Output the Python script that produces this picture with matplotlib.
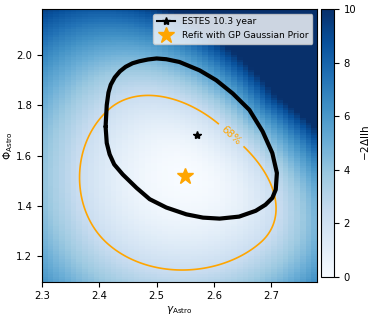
import numpy as np
import matplotlib
matplotlib.use('Agg')
import matplotlib.pyplot as plt

# best fits
estes_best = (2.57, 1.68)
refit_best = (2.55, 1.52)

# ESTES 10.3 year 68% contour (gamma, phi)
estes_gamma = [2.411, 2.413, 2.418, 2.426, 2.441, 2.465, 2.488, 2.517, 2.552, 2.581,
               2.610, 2.644, 2.673, 2.690, 2.702, 2.708, 2.710, 2.702, 2.685, 2.662,
               2.633, 2.604, 2.575, 2.540, 2.517, 2.500, 2.485, 2.470, 2.458, 2.446,
               2.436, 2.427, 2.420, 2.416, 2.413]
estes_phi = [1.715, 1.650, 1.605, 1.565, 1.525, 1.472, 1.427, 1.394, 1.367, 1.354,
             1.350, 1.358, 1.381, 1.405, 1.432, 1.465, 1.531, 1.610, 1.696, 1.781,
             1.846, 1.899, 1.938, 1.971, 1.982, 1.985, 1.981, 1.974, 1.966, 1.952,
             1.934, 1.910, 1.881, 1.850, 1.800]

# refit likelihood scan: widths along the diagonal (p) / anti-diagonal (m)
scale_gamma, scale_phi = 0.1, 0.2
sig_p_up, sig_p_down = 0.786, 1.173
sig_m_up, sig_m_down = 1.116, 1.23
steep_p_up = 0.10     # extra growth towards high gamma / high phi
soft_p_down = 0.08    # slower growth towards low gamma / low phi
soft_m_up = 0.12
bend_pos, bend_neg = 0.08, 0.05
level_68 = 2.3

gamma_edges = np.arange(2.30, 2.785, 0.01)
phi_edges = np.arange(1.10, 2.185, 0.01)


def llh(g, f):
    u = (g - refit_best[0]) / scale_gamma
    w = (f - refit_best[1]) / scale_phi
    p = (u + w) / np.sqrt(2)
    m = (w - u) / np.sqrt(2)
    sp_up = sig_p_up * (1 + np.where(m > 0, bend_pos * m, -bend_neg * m))
    tp = np.where(p > 0, (p / sp_up) ** 2 * (1 + steep_p_up * p),
                  (p / sig_p_down) ** 2 / (1 + soft_p_down * np.abs(p)))
    tm = np.where(m > 0, (m / sig_m_up) ** 2 / (1 + soft_m_up * m),
                  (m / sig_m_down) ** 2)
    return tp + tm


gc = 0.5 * (gamma_edges[1:] + gamma_edges[:-1])
pc = 0.5 * (phi_edges[1:] + phi_edges[:-1])
G, P = np.meshgrid(gc, pc)
Z = llh(G, P)

fig = plt.figure(figsize=(3.74, 3.18), dpi=100)
ax = fig.add_axes([0.1123, 0.1142, 0.7353, 0.8566])
cax = fig.add_axes([0.8575, 0.129, 0.0356, 0.8418])

mesh = ax.pcolormesh(gamma_edges, phi_edges, Z, cmap='Blues', vmin=0, vmax=10, shading='flat')

# finer grid for a smooth contour
gf = np.linspace(2.30, 2.78, 400)
pf = np.linspace(1.10, 2.18, 400)
GF, PF = np.meshgrid(gf, pf)
cs = ax.contour(GF, PF, llh(GF, PF), levels=[level_68], colors='orange', linewidths=1.2)
ax.clabel(cs, fmt={level_68: '68%'}, manual=[(2.63, 1.68)], fontsize=7.5, inline=True)

ax.plot(estes_gamma + estes_gamma[:1], estes_phi + estes_phi[:1], color='black', lw=3,
        solid_joinstyle='round', solid_capstyle='round')
ax.plot([estes_best[0]], [estes_best[1]], marker='*', color='black', ls='-', ms=6,
        label='ESTES 10.3 year')
ax.plot([refit_best[0]], [refit_best[1]], marker='*', color='orange', ls='none', ms=12,
        label='Refit with GP Gaussian Prior')

ax.set_xlim(2.30, 2.78)
ax.set_ylim(1.10, 2.18)
ax.set_xticks([2.3, 2.4, 2.5, 2.6, 2.7])
ax.set_yticks([1.2, 1.4, 1.6, 1.8, 2.0])
ax.tick_params(labelsize=7.2)
ax.set_xlabel(r'$\gamma_\mathrm{Astro}$', fontsize=7.5, labelpad=2)
ax.set_ylabel(r'$\Phi_\mathrm{Astro}$', fontsize=7.5, labelpad=1)
ax.legend(loc='upper right', fontsize=6.5)

cb = fig.colorbar(mesh, cax=cax)
cb.set_ticks([0, 2, 4, 6, 8, 10])
cb.ax.tick_params(labelsize=7.2)
cb.set_label(r'$-2\Delta$llh', fontsize=7.5, labelpad=2)

plt.savefig('out.png')
